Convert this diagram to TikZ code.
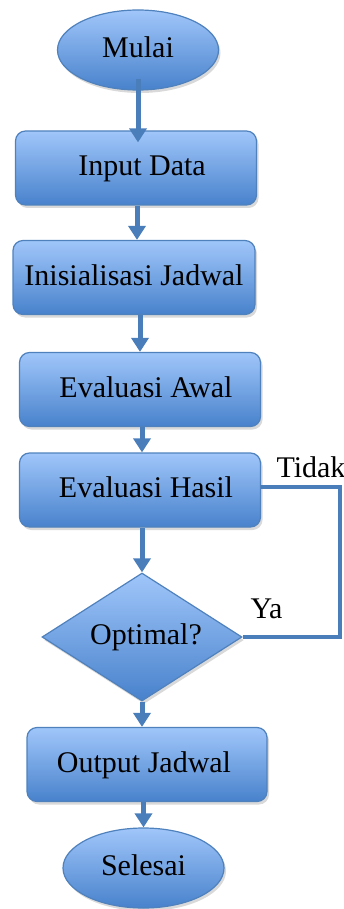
\documentclass[tikz,border=0pt]{standalone}
\usepackage{fontspec}
\setmainfont{Liberation Serif}
\usetikzlibrary{shapes.geometric,arrows.meta,shadows}
\definecolor{edgeblue}{RGB}{79,129,189}
\definecolor{topblue}{RGB}{160,198,250}
\definecolor{botblue}{RGB}{72,130,204}
\definecolor{arrowblue}{RGB}{74,126,187}
\begin{document}
\begin{tikzpicture}[x=1pt,y=-1pt,
  every node/.style={font=\fontsize{30}{34}\selectfont, text height=21pt, text depth=6pt},
  filled/.style={draw=edgeblue, line width=1.2pt, top color=topblue, bottom color=botblue, inner sep=0pt,
     drop shadow={opacity=0.3, shadow xshift=2pt, shadow yshift=-3pt}},
  procbox/.style={filled, rectangle, rounded corners=10pt, minimum width=241pt, minimum height=74pt},
  term/.style={filled, ellipse, minimum width=161pt, minimum height=80pt},
  decision/.style={filled, diamond, shape aspect=1.5625, minimum width=200pt, minimum height=128pt},
  arr/.style={draw=arrowblue, line width=5pt, -{Triangle[width=17pt,length=14pt]}},
  loopline/.style={draw=arrowblue, line width=4pt},
  lbl/.style={anchor=base west, text height=, text depth=}
]
\useasboundingbox (0,0) rectangle (344,909);
\node[term] (mulai) at (138,50) {Mulai};
\node[procbox] (input) at (136,168) {\hspace*{12pt}Input Data};
\node[procbox, minimum width=242pt] (init) at (134,277.5) {Inisialisasi Jadwal};
\node[procbox] (awal) at (140,389.5) {\hspace*{12pt}Evaluasi Awal};
\node[procbox] (hasil) at (140,490) {\hspace*{12pt}Evaluasi Hasil};
\node[decision] (opt) at (142,637) {\hspace*{8pt}Optimal?};
\node[procbox, minimum width=240pt] (output) at (147,764.5) {Output Jadwal\hspace*{6pt}};
\node[term] (selesai) at (143.5,868) {Selesai};

\draw[arr, shorten <=-12pt, shorten >=-12pt] (mulai.south) -- (mulai.south |- input.north);
\draw[arr] ([xshift=1pt]input.south) -- ([xshift=1pt]input.south |- init.north);
\draw[arr] (awal.north |- init.south) -- (awal.north);
\draw[arr] ([xshift=2pt]awal.south) -- ([xshift=2pt]awal.south |- hasil.north);
\draw[arr] (opt.north |- hasil.south) -- (opt.north);
\draw[arr] (opt.south) -- (opt.south |- output.north);
\draw[arr] (selesai.north |- output.south) -- (selesai.north);

\coordinate (r1) at (340,487);
\draw[loopline] ([yshift=3pt]hasil.east) -- (r1) -- (r1 |- opt.east) -- (opt.east);

\node[lbl] (tidak) at (273,477) {Tidak};
\node[lbl] (ya) at (247,618) {Ya};
\end{tikzpicture}
\end{document}
